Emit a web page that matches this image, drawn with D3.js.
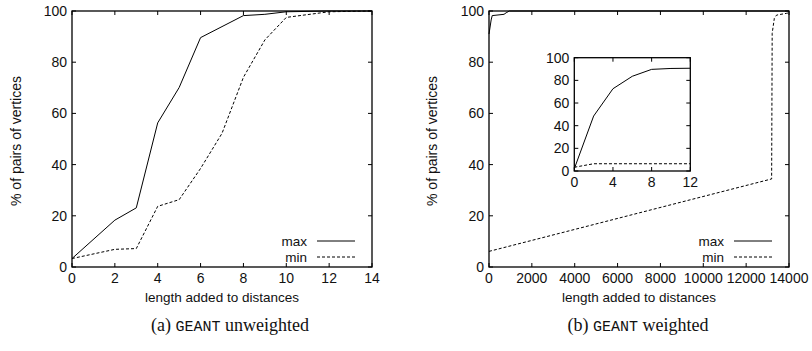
<!DOCTYPE html>
<html>
<head>
<meta charset="utf-8">
<script src="https://cdn.jsdelivr.net/npm/d3@7"></script>
<style>
  body { margin: 0; background: #fff; }
  svg text { font-family: "Liberation Sans", Arial, sans-serif; fill: #111; }
  .cap { font-family: "Liberation Serif", "DejaVu Serif", serif; font-size: 18px; }
  .tt { font-family: "Liberation Mono", "DejaVu Sans Mono", monospace; font-size: 15px; }
</style>
</head>
<body>
<div id="chart"></div>
<script>
var width = 812
var height = 351

// (a) unweighted
var unwMaxX = [0, 2, 3, 4, 5, 6, 8, 9, 10, 12, 14]
var unwMaxY = [3.3, 18.3, 23.1, 56.3, 70.1, 89.6, 98.2, 98.7, 99.7, 100, 100]
var unwMinX = [0, 2, 3, 4, 5, 6, 7, 8, 9, 10, 12, 14]
var unwMinY = [3.3, 6.9, 7.2, 23.7, 26.3, 38.5, 52.2, 74.1, 88.7, 97.5, 99.7, 100]

// (b) weighted
var wMaxX = [0, 100, 150, 700, 800, 950, 14000]
var wMaxY = [91, 96.5, 98.2, 98.7, 99.3, 100, 100]
var wMinX = [0, 13190, 13215, 13315, 13420, 13890, 14000]
var wMinY = [6.1, 34.4, 91.3, 97.1, 98.4, 99.1, 99.3]

// inset of (b)
var inMaxX = [0, 2, 4, 6, 8, 10, 12]
var inMaxY = [2, 48.5, 72.6, 83.6, 89.7, 90.5, 90.7]
var inMinX = [0, 2, 4, 6, 8, 10, 12]
var inMinY = [3.3, 6.4, 6.4, 6.4, 6.4, 6.4, 6.4]

var xTicksA = [0, 2, 4, 6, 8, 10, 12, 14]
var xTicksB = [0, 2000, 4000, 6000, 8000, 10000, 12000, 14000]
var yTicks = [0, 20, 40, 60, 80, 100]
var xTicksIn = [0, 4, 8, 12]

var svg = d3.select("#chart")
    .append("svg")
    .attr("width", width)
    .attr("height", height)

function zip(xs, ys){
    return xs.map((x, i) => [x, ys[i]])
}

// draws a gnuplot style framed box with inward ticks on all sides
function frame(x, y, xt, yt, fs, ticklen){
    var x0 = x.range()[0], x1 = x.range()[1]
    var y0 = y.range()[0], y1 = y.range()[1]
    var g = svg.append("g")

    xt.forEach(function(t){
        var px = x(t)
        g.append("line").attr("x1", px).attr("x2", px).attr("y1", y0).attr("y2", y0 - ticklen)
        g.append("line").attr("x1", px).attr("x2", px).attr("y1", y1).attr("y2", y1 + ticklen)
        g.append("text").attr("x", px).attr("y", y0 + fs + 2)
            .attr("text-anchor", "middle").style("font-size", fs + "px").text(t)
    })
    yt.forEach(function(t){
        var py = y(t)
        g.append("line").attr("x1", x0).attr("x2", x0 + ticklen).attr("y1", py).attr("y2", py)
        g.append("line").attr("x1", x1).attr("x2", x1 - ticklen).attr("y1", py).attr("y2", py)
        g.append("text").attr("x", x0 - 5).attr("y", py).attr("dy", "0.35em")
            .attr("text-anchor", "end").style("font-size", fs + "px").text(t)
    })
    g.selectAll("line").attr("stroke", "#000").attr("stroke-width", 1)

    g.append("rect")
        .attr("x", x0).attr("y", y1)
        .attr("width", x1 - x0).attr("height", y0 - y1)
        .attr("fill", "none").attr("stroke", "#000").attr("stroke-width", 1.3)
}

function series(x, y, pts, dashed){
    var line = d3.line().x(d => x(d[0])).y(d => y(d[1]))
    svg.append("path")
        .datum(pts)
        .attr("d", line)
        .attr("fill", "none")
        .attr("stroke", "#000")
        .attr("stroke-width", 1)
        .attr("stroke-dasharray", dashed ? "3,2" : null)
}

function legend(x1){
    var items = [["max", false, 241], ["min", true, 257]]
    items.forEach(function(it){
        svg.append("text").attr("x", x1 - 65).attr("y", it[2]).attr("dy", "0.35em")
            .attr("text-anchor", "end").style("font-size", "13.5px").text(it[0])
        svg.append("line")
            .attr("x1", x1 - 55).attr("x2", x1 - 17)
            .attr("y1", it[2]).attr("y2", it[2])
            .attr("stroke", "#000").attr("stroke-width", 1)
            .attr("stroke-dasharray", it[1] ? "3,2" : null)
    })
}

function labels(cx, ylx, cy){
    svg.append("text").attr("x", cx).attr("y", 302)
        .attr("text-anchor", "middle").style("font-size", "13.5px")
        .text("length added to distances")
    svg.append("text")
        .attr("transform", "translate(" + ylx + "," + cy + ") rotate(-90)")
        .attr("text-anchor", "middle").style("font-size", "14px")
        .text("% of pairs of vertices")
}

// ----- (a)
var xa = d3.scaleLinear().domain([0, 14]).range([72, 372])
var ya = d3.scaleLinear().domain([0, 100]).range([267, 11])
frame(xa, ya, xTicksA, yTicks, 14, 4)
series(xa, ya, zip(unwMaxX, unwMaxY), false)
series(xa, ya, zip(unwMinX, unwMinY), true)
legend(372)
labels(222, 21, 141)

// ----- (b)
var xb = d3.scaleLinear().domain([0, 14000]).range([489, 789])
var yb = d3.scaleLinear().domain([0, 100]).range([267, 11])
frame(xb, yb, xTicksB, yTicks, 14, 4)
series(xb, yb, zip(wMaxX, wMaxY), false)
series(xb, yb, zip(wMinX, wMinY), true)
legend(789)
labels(639, 437, 141)

// inset
var xi = d3.scaleLinear().domain([0, 12]).range([574.3, 690.3])
var yi = d3.scaleLinear().domain([0, 100]).range([171, 57.7])
frame(xi, yi, xTicksIn, yTicks, 14, 4)
series(xi, yi, zip(inMaxX, inMaxY), false)
series(xi, yi, zip(inMinX, inMinY), true)

// sub captions
function caption(cx, letter, word){
    var t = svg.append("text").attr("x", cx).attr("y", 331)
        .attr("text-anchor", "middle").attr("class", "cap")
    t.append("tspan").text("(" + letter + ") ")
    t.append("tspan").attr("class", "tt").text("GEANT")
    t.append("tspan").text(" " + word)
}
caption(230, "a", "unweighted")
caption(638, "b", "weighted")
</script>
</body>
</html>
